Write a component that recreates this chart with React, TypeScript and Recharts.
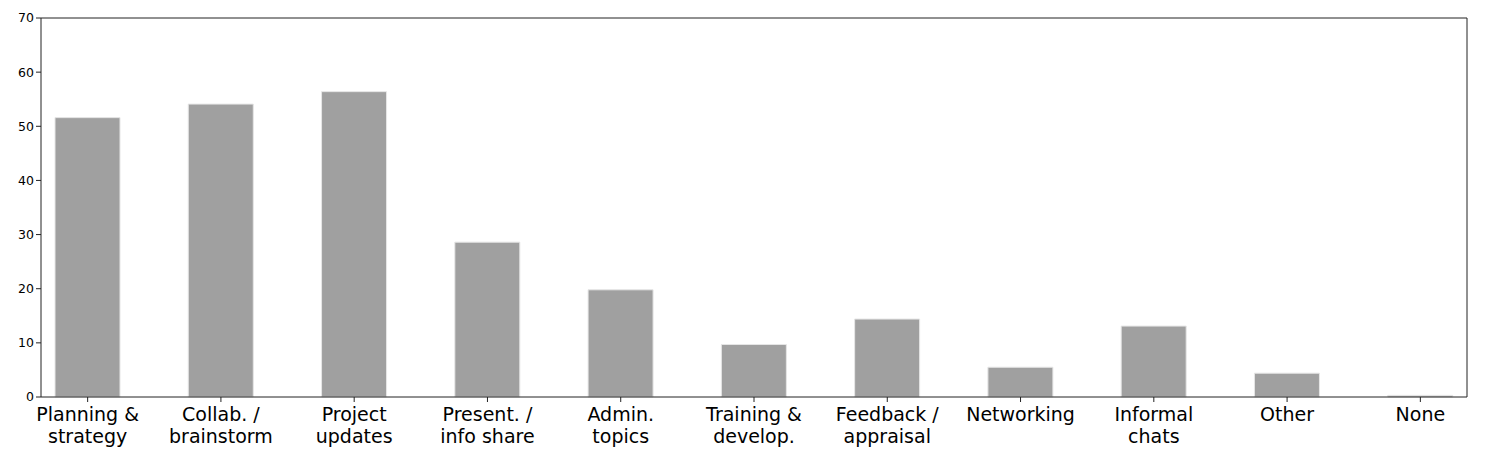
import { BarChart, Bar, XAxis, YAxis, ReferenceLine } from 'recharts';

// categories, values
const categories = [
  'Planning &\nstrategy',
  'Collab. /\nbrainstorm',
  'Project\nupdates',
  'Present. /\ninfo share',
  'Admin.\ntopics',
  'Training &\ndevelop.',
  'Feedback /\nappraisal',
  'Networking',
  'Informal\nchats',
  'Other',
  'None',
];
const values = [51.6, 54.1, 56.4, 28.6, 19.8, 9.7, 14.4, 5.5, 13.1, 4.4, 0.3];
const yTicks = [0, 10, 20, 30, 40, 50, 60, 70];

const FONT = '"DejaVu Sans", sans-serif';

const chartData = categories.map((label, i) => ({ idx: i, label, value: values[i] }));

const CategoryTick = ({ x, y, payload }: any) => {
  const lines = categories[payload.value].split('\n');
  return (
    <text x={x} y={y} textAnchor="middle" fontFamily={FONT} fontSize={19} fill="#000">
      {lines.map((line, i) => (
        <tspan key={i} x={x} dy={i === 0 ? 17 : 22}>
          {line}
        </tspan>
      ))}
    </text>
  );
};

export default function App() {
  return (
    <div style={{ position: 'absolute', left: 0, top: 0, background: '#fff' }}>
      <BarChart
        width={1492}
        height={455}
        data={chartData}
        margin={{ top: 18, right: 25, left: 0, bottom: 0 }}
      >
        <XAxis
          dataKey="idx"
          type="number"
          domain={[-0.35, 10.35]}
          ticks={categories.map((_, i) => i)}
          interval={0}
          height={58}
          tick={<CategoryTick />}
          tickSize={5}
          tickLine={{ stroke: '#222' }}
          axisLine={{ stroke: '#222', strokeWidth: 1 }}
          allowDataOverflow
        />
        <YAxis
          domain={[0, 70]}
          ticks={yTicks}
          width={41}
          tickSize={5}
          tickMargin={2}
          tick={{ fontSize: 12.5, fontFamily: FONT, fill: '#000' }}
          tickLine={{ stroke: '#222' }}
          axisLine={{ stroke: '#222', strokeWidth: 1 }}
        />
        <ReferenceLine y={70} stroke="#222" strokeWidth={1} />
        <ReferenceLine x={10.35} stroke="#222" strokeWidth={1} />
        <Bar
          dataKey="value"
          fill="#a0a0a0"
          stroke="#e6e6e6"
          strokeWidth={1}
          barSize={65}
          isAnimationActive={false}
        />
      </BarChart>
    </div>
  );
}
